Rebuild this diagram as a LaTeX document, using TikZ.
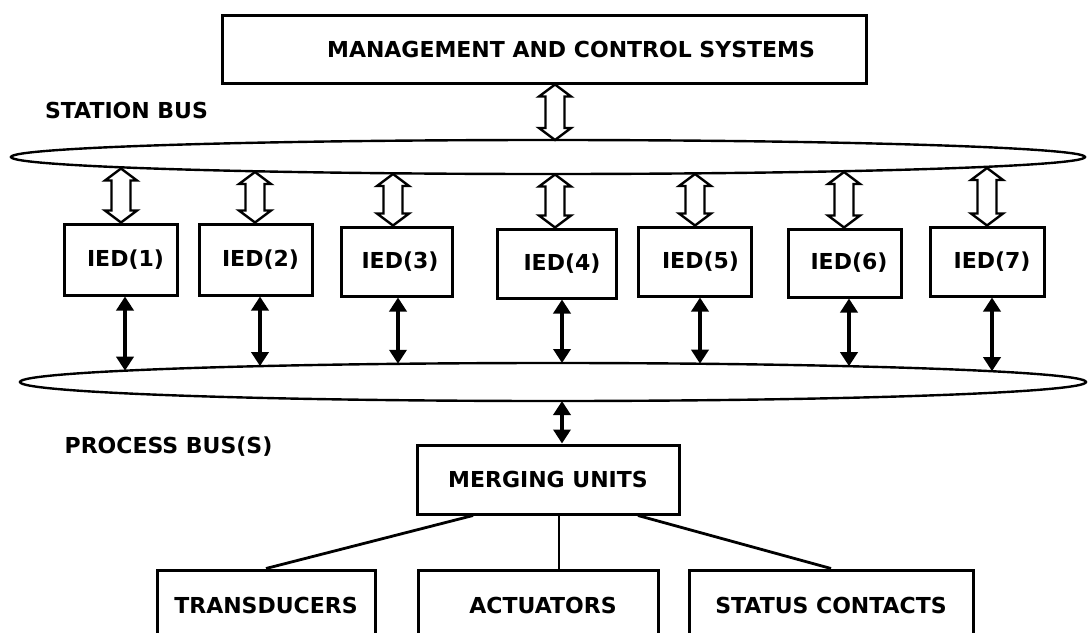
\documentclass[tikz,border=0pt]{standalone}
\usepackage{fontspec}
\setmainfont{DejaVu Sans}
\usetikzlibrary{shapes.geometric,arrows.meta,calc}
\newcommand\dfont{\fontsize{22}{26}\selectfont\bfseries}
% hollow double arrow from a top point #1 to a bottom point #2 (vertical)
\newcommand\hollowlink[2]{%
  \draw[hollowarrow] let \p1=(#1), \p2=(#2) in
    (\x1,\y1) -- (\x1+16pt,\y1-12pt) -- (\x1+9.5pt,\y1-12pt) -- (\x1+9.5pt,\y2+12pt)
    -- (\x1+16pt,\y2+12pt) -- (\x1,\y2) -- (\x1-16pt,\y2+12pt) -- (\x1-9.5pt,\y2+12pt)
    -- (\x1-9.5pt,\y1-12pt) -- (\x1-16pt,\y1-12pt) -- cycle;}
\begin{document}
\begin{tikzpicture}[x=1pt,y=-1pt,
  box/.style={draw,line width=3pt,inner sep=0pt,font=\dfont},
  lbl/.style={font=\dfont,inner sep=0pt},
  bus/.style={draw,ellipse,line width=2.4pt,inner sep=0pt},
  hollowarrow/.style={draw,line width=2.4pt,fill=white,line join=miter},
  biarrow/.style={line width=4.5pt,{Triangle[width=17pt,length=14pt]}-{Triangle[width=17pt,length=14pt]}},
  wire/.style={line width=2.8pt}]
\path[use as bounding box, clip] (0,0) rectangle (1089,632);

% boxes
\node[box,minimum width=644pt,minimum height=68pt] (mgmt) at (544,49) {\hspace*{54pt}MANAGEMENT AND CONTROL SYSTEMS};
\node[lbl] (stlbl) at (126.5,110) {STATION BUS};
\node[bus,minimum width=1074pt,minimum height=34pt] (sbus) at (548,157) {};

\node[box,minimum width=113pt,minimum height=71pt] (ied1) at (120.5,259.5) {\hspace*{10pt}IED(1)};
\node[box,minimum width=113pt,minimum height=71pt] (ied2) at (255.5,259.5) {\hspace*{10pt}IED(2)};
\node[box,minimum width=111pt,minimum height=69pt] (ied3) at (396.5,261.5) {\hspace*{7pt}IED(3)};
\node[box,minimum width=119pt,minimum height=69pt] (ied4) at (556.5,263.5) {\hspace*{11pt}IED(4)};
\node[box,minimum width=113pt,minimum height=69pt] (ied5) at (694.5,261.5) {\hspace*{12pt}IED(5)};
\node[box,minimum width=113pt,minimum height=68pt] (ied6) at (844.5,263) {\hspace*{9pt}IED(6)};
\node[box,minimum width=114pt,minimum height=69pt] (ied7) at (987,261.5) {\hspace*{10pt}IED(7)};

\node[bus,minimum width=1066pt,minimum height=38pt] (pbus) at (553,382) {};
\node[lbl] (pblbl) at (168.5,447) {PROCESS BUS(S)};

\node[box,minimum width=262pt,minimum height=69pt] (mu) at (548,479.5) {MERGING UNITS};

\node[box,minimum width=218pt,minimum height=70pt] (trans) at (266,605) {TRANSDUCERS};
\node[box,minimum width=240pt,minimum height=70pt] (act) at (538,605) {\hspace*{10pt}ACTUATORS};
\node[box,minimum width=284pt,minimum height=70pt] (stat) at (831,605) {STATUS CONTACTS};

% points on the station bus
\coordinate (st) at (555,140);
\coordinate (s1) at (121,168.5);
\coordinate (s2) at (255,172);
\coordinate (s3) at (393,174);
\coordinate (s4) at (555,174.5);
\coordinate (s5) at (695,174);
\coordinate (s6) at (844,172);
\coordinate (s7) at (987,168);
% points on the process bus
\coordinate (p1) at (125,370.7);
\coordinate (p2) at (260,366.1);
\coordinate (p3) at (398,363.8);
\coordinate (p4) at (562,363);
\coordinate (p5) at (700,363.7);
\coordinate (p6) at (849,366.2);
\coordinate (p7) at (992,371.2);
\coordinate (pb) at (562,401);

% hollow arrows (station bus)
\hollowlink{mgmt.south -| st}{st}
\foreach \i in {1,...,7}{
  \hollowlink{s\i}{ied\i.north -| s\i}
}

% solid arrows (process bus)
\foreach \i in {1,...,7}{
  \draw[biarrow] (ied\i.south -| p\i) -- (p\i);
}
\draw[biarrow] (pb) -- (mu.north -| pb);

% merging unit links
\coordinate (m1) at ($(mu.south)+(-75,0)$);
\coordinate (m2) at ($(mu.south)+(11,0)$);
\coordinate (m3) at ($(mu.south)+(90,0)$);
\draw[wire] (m1) -- (trans.north);
\draw[wire] (m2) -- (act.north -| m2);
\draw[wire] (m3) -- (stat.north);
\end{tikzpicture}
\end{document}
